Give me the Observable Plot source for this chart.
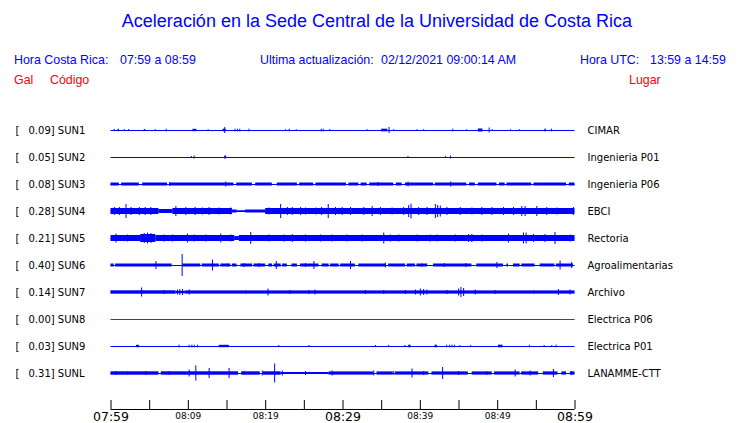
<!DOCTYPE html>
<html>
<head>
<meta charset="utf-8">
<script src="https://cdn.jsdelivr.net/npm/d3@7"></script>
<script src="https://cdn.jsdelivr.net/npm/@observablehq/plot@0.6"></script>
<style>
  html, body { margin: 0; padding: 0; background: #fff; }
  body { width: 740px; height: 423px; position: relative; overflow: hidden; font-family: "Liberation Sans", Arial, sans-serif; }
  .t { position: absolute; white-space: pre; line-height: 1; color: #0000ff; font-size: 12.4px; }
  .title { font-size: 18px; left: 0; width: 754px; text-align: center; top: 12px; }
  .red { color: #ff0000; }
  #chart { position: absolute; left: 0; top: 0; }
</style>
</head>
<body>
<div class="t title">Aceleración en la Sede Central de la Universidad de Costa Rica</div>
<div class="t" style="left:14px;top:54px">Hora Costa Rica:</div>
<div class="t" style="left:120px;top:54px">07:59 a 08:59</div>
<div class="t" style="left:260px;top:54px">Ultima actualización:</div>
<div class="t" style="left:381px;top:54px">02/12/2021 09:00:14 AM</div>
<div class="t" style="left:580px;top:54px">Hora UTC:</div>
<div class="t" style="left:650px;top:54px">13:59 a 14:59</div>
<div class="t red" style="left:14px;top:74px">Gal</div>
<div class="t red" style="left:50px;top:74px">Código</div>
<div class="t red" style="left:629px;top:74px">Lugar</div>
<div id="chart"></div>
<script>
// ---- data (time in minutes after 07:59, amplitudes in trace units; one row = 27 units) ----
const stationCodes = ["SUN1","SUN2","SUN3","SUN4","SUN5","SUN6","SUN7","SUN8","SUN9","SUNL"];
const stationPlaces = ["CIMAR","Ingenieria P01","Ingenieria P06","EBCI","Rectoria","Agroalimentarias","Archivo","Electrica P06","Electrica P01","LANAMME-CTT"];
const peakGal = ["0.09","0.05","0.08","0.28","0.21","0.40","0.14","0.00","0.03","0.31"];
const minuteSpan = [0, 60];
const tickMinutes = [0,5,10,15,20,25,30,35,40,45,50,55,60];
const labelMinutes = [0,10,20,30,40,50,60];
const labelTexts = ["07:59","08:09","08:19","08:29","08:39","08:49","08:59"];
const ROW_UNITS = 27;

// band segments: [start, end, half amplitude]
const bandsSUN1 = [[0.9,1.1,1.2],[4.3,4.5,1],[10.6,11.1,1.2],[14.5,14.9,1.3],[35.0,35.8,1.3],[47.5,48.1,1.5],[56.1,56.3,1.3]];
const bandsSUN2 = [[14.7,14.95,1.5]];
const bandsSUN3 = [[0,1.07,1.5],[1.38,3.66,1.5],[4.09,7.31,1.5],[7.61,15.9,1.5],[16.26,18.28,1.5],[18.71,20.86,1.5],[21.5,24.1,1.5],[24.4,26.2,1.5],[26.5,30.45,1.5],[30.76,32.05,1.5],[32.35,33.12,1.5],[33.46,36.56,1.5],[36.9,37.64,1.5],[38.07,41.72,1.5],[41.94,46.0,1.5],[46.37,47.1,1.5],[47.5,49.9,1.5],[50.24,50.97,1.5],[51.2,54.4,1.5],[54.7,58.9,1.5],[59.27,60,1.5]];
const bandsSUN4 = [[0,6.2,3],[6.2,8,2],[8,15.7,3],[15.7,16.3,1.5],[16.3,17.4,0.8],[17.4,20,1.5],[20,60,3]];
const bandsSUN5 = [[0,3.87,3],[3.87,5.8,4],[5.8,16,3],[16,16.6,2],[16.6,60,3]];
const bandsSUN6 = [[0,0.4,1.5],[0.6,7.9,1.5],[9.3,11.6,1.5],[11.8,14,1.5],[14.2,15.5,1.5],[15.7,16.3,1.5],[16.8,18.3,1.5],[18.5,20,1.5],[20.4,20.9,1.5],[21.1,22,1.5],[22.2,22.8,1.5],[23.4,24.1,1.5],[24.5,26.9,1.5],[27.3,28.2,1.5],[28.4,29.5,1.5],[29.7,31.6,1.5],[32.05,35.5,1.5],[35.9,38.07,1.5],[38.3,39.36,1.5],[39.57,40.95,1.5],[41.72,46.67,1.5],[47.3,50.76,1.5],[51.2,51.4,1.5],[52.05,52.9,1.5],[53.12,54.84,1.5],[55.5,57.4,1.5],[57.6,59.8,1.5]];
const bandsSUN7 = [[0,8.4,1.7],[8.4,9.6,1.2],[9.6,60,1.6]];
const bandsSUN8 = [];
const bandsSUN9 = [[3.3,3.7,1.2],[14,15.3,1.2],[38.5,38.8,1.3],[41.9,42.2,1.3],[50.1,50.7,1.3]];
const bandsSUNL = [[0,6.2,1.7],[6.5,16.5,1.7],[16.9,19.3,1.7],[19.7,22,1.7],[22,28.2,1],[28.2,34,1.6],[34.4,36.5,1.6],[36.8,41.1,1.6],[41.5,46.2,1.6],[46.7,49.3,1.6],[49.6,52.9,1.6],[53.1,55.3,1.6],[55.9,57.8,1.6],[58.3,58.9,1.6],[59.4,60,1.6]];

// spikes: [time, half amplitude]
const spikesSUN1 = [[0.43,1],[1.72,1],[2.28,1],[5.72,0.8],[7.14,1.3],[12.56,0.8],[14.71,3],[16.04,1.3],[16.34,1.3],[16.65,1.3],[17.85,1.3],[22.58,0.8],[23.05,1.3],[23.95,0.8],[27.18,1.3],[27.44,1.3],[28.3,1],[33.1,0.8],[35.96,3],[36.56,0.8],[39.57,0.8],[40.43,0.8],[44.2,1.3],[46.0,0.8],[48.9,2.5],[49.3,1],[51.66,0.8],[52.8,0.8],[56.95,1.3]];
const spikesSUN2 = [[10.4,1],[10.75,1.5],[38.4,1],[43.27,1],[43.9,1.5]];
const spikesSUN3 = [[7.6,2],[14.84,2.5],[34.54,2],[38.41,2.3],[43.92,2.5]];
const spikesSUN4 = [[0.43,4],[1.08,4],[1.94,7],[2.58,4],[3.66,4],[4.43,4],[5.16,4],[8.39,5],[9.68,4],[10.88,4],[11.83,3.5],[12.69,4],[13.98,3.5],[15.48,3.5],[20.43,3.5],[21.94,7],[22.8,4],[23.44,4],[24.52,4],[25.16,3.5],[26.54,3.5],[27.23,4],[28.09,7],[29.03,4],[29.89,4],[30.97,4],[32.69,4],[33.77,5],[34.84,4],[36.35,3.5],[37.85,4],[38.5,6],[38.8,7.5],[39.79,4],[40.86,4],[41.94,7],[42.24,6],[42.58,5.5],[43.44,4],[45.16,4],[46.67,3.5],[47.96,4],[49.25,4],[50.76,4],[52.05,4],[53.12,5],[53.55,5],[55.06,5],[56.35,4],[57.64,3.5],[59.79,4]];
const spikesSUN5 = [[0.65,4.5],[2.15,3.5],[3.87,4],[4.3,5],[4.73,5.5],[5.16,5],[5.59,4],[6.88,3.5],[7.96,3.5],[9.89,4.5],[10.75,3.5],[12.26,3.5],[14.19,4.5],[15.48,3.5],[18.07,6],[20.43,3.5],[22.37,3.5],[23.44,4],[25.16,3.5],[27.1,3.5],[28.6,3.5],[30.54,3.5],[32.48,3.5],[35.27,5.5],[36.13,3.5],[37.21,3.5],[39.57,3.5],[41.29,3.5],[42.15,3.5],[44.52,3.5],[46.24,4],[46.67,4],[47.96,3.5],[51.4,4.5],[53.34,5.5],[53.68,5.5],[54.63,4],[56.13,4],[57.42,6],[59.36,3.5]];
const spikesSUN6 = [[5.81,4],[9.2,11],[13.12,5.5],[15.05,1.5],[17.2,2],[19.14,2],[21.38,4],[25.16,2],[26.24,4],[30.97,4],[35.49,2.5],[40.22,1.5],[43.1,2],[45.9,2],[49.9,3],[58.07,4.5],[59.57,3]];
const spikesSUN7 = [[3.96,4.5],[6.88,2],[8.6,2.5],[8.9,3],[9.25,3],[10.11,2.5],[17.42,1.5],[20.3,3.5],[23.14,2],[25.59,2],[26.37,2.5],[32.9,2],[35.27,2],[38.07,2],[39.36,2.5],[40.0,3.5],[40.43,3],[40.86,2.5],[43.44,2],[44.95,3.5],[45.25,5],[45.6,4],[47.1,2.5],[49.68,2],[54.63,1.5],[57.85,3],[59.36,2.5]];
const spikesSUN8 = [];
const spikesSUN9 = [[8.8,1.3],[10.1,1.3],[10.45,1.3],[10.75,1.3],[11.18,1.3],[21.7,1],[25.6,1],[34.2,1],[35.9,1],[38,1],[43.4,1.3],[43.8,1.3],[44.1,1.3],[44.4,1.3],[45.1,1],[46.5,1],[54.1,1.3],[56,1],[57,1],[57.55,1.3]];
const spikesSUNL = [[0.65,2],[2.15,1.5],[4.52,2],[7.53,2],[10.11,3.5],[10.97,7.5],[12.69,5],[15.27,5],[17.2,1.5],[19.57,2.5],[21.16,9.5],[22.15,2.5],[25.16,2],[28.6,2.5],[33.98,2.5],[36.56,2],[38.93,4.5],[40.43,2],[42.88,6],[44.95,2],[48.6,2],[52.26,3.5],[54.2,2.5],[57.21,4],[59.57,2]];

// ---- build tables ----
const allBands = [bandsSUN1,bandsSUN2,bandsSUN3,bandsSUN4,bandsSUN5,bandsSUN6,bandsSUN7,bandsSUN8,bandsSUN9,bandsSUNL];
const allSpikes = [spikesSUN1,spikesSUN2,spikesSUN3,spikesSUN4,spikesSUN5,spikesSUN6,spikesSUN7,spikesSUN8,spikesSUN9,spikesSUNL];
const traceColor = "#0000ff", deadColor = "#e00000";
const stations = stationCodes.map((code, i) => ({
  i, code, place: stationPlaces[i], peak: peakGal[i],
  color: +peakGal[i] === 0 ? deadColor : traceColor
}));
const bandRows = allBands.flatMap((arr, i) => arr.map(([t0, t1, a]) => ({i, t0, t1, a})));
const spikeRows = allSpikes.flatMap((arr, i) => arr.map(([t, a]) => ({i, t, a})));
const axisRow = stationCodes.length + 1 / 3;
const tickLen = 1 / 3;
const labels = labelMinutes.map((m, k) => ({m, text: labelTexts[k], major: m % 30 === 0}));

const chart = Plot.plot({
  width: 740,
  height: 423,
  marginLeft: 110.5,
  marginRight: 165.5,
  marginTop: 100,
  marginBottom: 14,
  x: {domain: minuteSpan, axis: null},
  y: {domain: [0, 9], range: [130, 373], axis: null},
  style: {background: "transparent", overflow: "visible"},
  marks: [
    // baseline of every trace
    Plot.ruleY(stations, {y: "i", x1: () => minuteSpan[0], x2: () => minuteSpan[1], stroke: "color", strokeWidth: 1}),
    // continuous noise bands
    Plot.rect(bandRows, {x1: "t0", x2: "t1", y1: d => d.i - d.a / ROW_UNITS, y2: d => d.i + d.a / ROW_UNITS, fill: traceColor}),
    // spikes
    Plot.ruleX(spikeRows, {x: "t", y1: d => d.i - d.a / ROW_UNITS, y2: d => d.i + d.a / ROW_UNITS, stroke: traceColor, strokeWidth: 1}),
    // left labels
    Plot.text(stations, {y: "i", frameAnchor: "left", text: () => "[", dx: -95.5, textAnchor: "start", fontFamily: "DejaVu Sans", fontSize: 10, fill: "#000"}),
    Plot.text(stations, {y: "i", frameAnchor: "left", text: d => `${d.peak}] ${d.code}`, dx: -82.5, textAnchor: "start", fontFamily: "DejaVu Sans", fontSize: 10, fill: "#000"}),
    // right labels
    Plot.text(stations, {y: "i", frameAnchor: "right", text: "place", dx: 12.5, textAnchor: "start", fontFamily: "DejaVu Sans", fontSize: 10, fill: "#000"}),
    // time axis
    Plot.ruleY([axisRow], {y: d => d, x1: () => minuteSpan[0], x2: () => minuteSpan[1], stroke: "#000"}),
    Plot.ruleX(tickMinutes, {x: d => d, y1: () => axisRow, y2: () => axisRow - tickLen, stroke: "#000"}),
    Plot.text(labels.filter(d => d.major), {x: "m", y: () => axisRow, dy: 7, text: "text", fontFamily: "DejaVu Sans", fontSize: 12.5, fill: "#000"}),
    Plot.text(labels.filter(d => !d.major), {x: "m", y: () => axisRow, dy: 6.5, text: "text", fontFamily: "DejaVu Sans", fontSize: 9, fill: "#000"})
  ]
});
document.getElementById("chart").appendChild(chart);
</script>
</body>
</html>
